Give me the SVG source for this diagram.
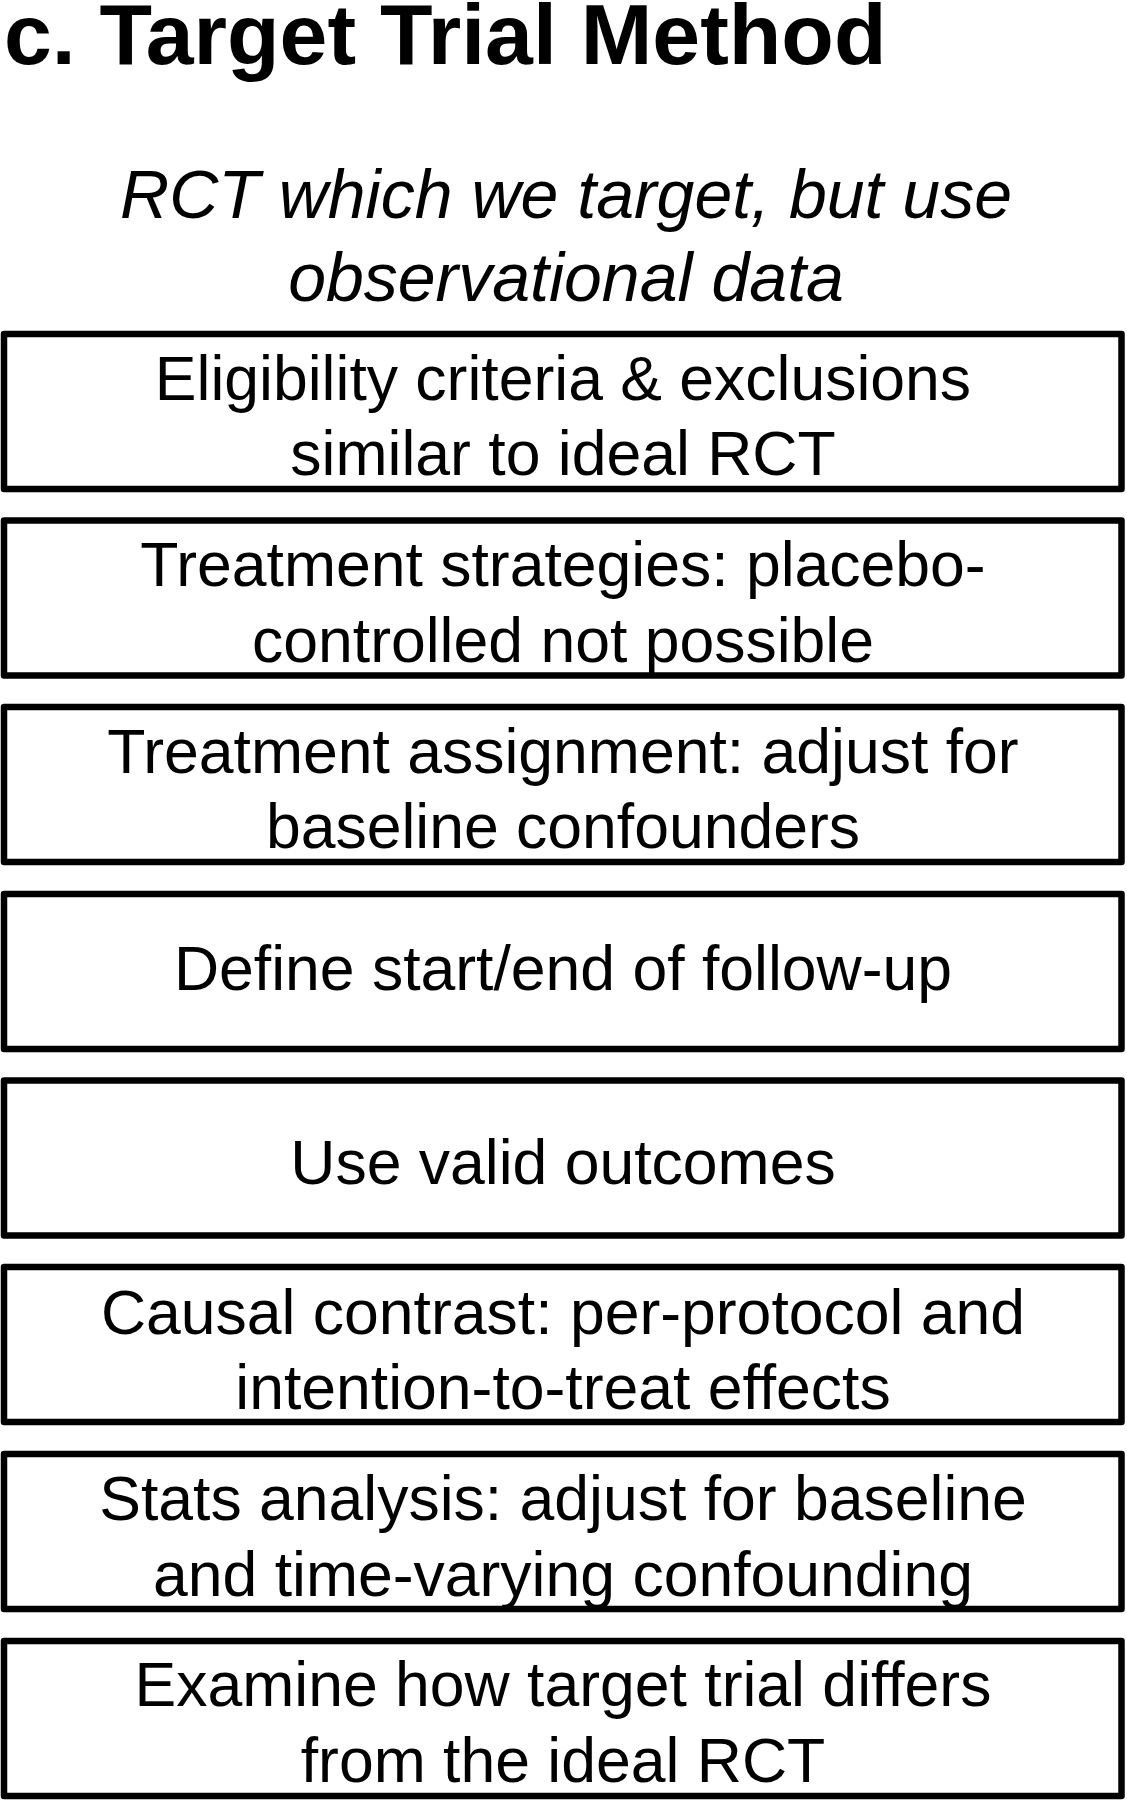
<svg xmlns="http://www.w3.org/2000/svg" width="1127" height="1800" viewBox="0 0 1127 1800">
<style>
.box{fill:#fff;stroke:#000;stroke-width:6.5;stroke-linejoin:round}
.t{font-family:"Liberation Sans",Arial,Helvetica,sans-serif;font-size:62.5px;fill:#000;text-anchor:middle}
.title{font-family:"Liberation Sans",Arial,Helvetica,sans-serif;font-size:86px;font-weight:bold;fill:#000}
.sub{font-family:"Liberation Sans",Arial,Helvetica,sans-serif;font-size:68px;font-style:italic;fill:#000;text-anchor:middle}
</style>
<rect width="1127" height="1800" fill="#fff"/>
<g id="title"><text class="title" x="4" y="64">c. Target Trial Method</text></g>
<g id="subtitle">
<text class="sub" x="566" y="218">RCT which we target, but use</text>
<text class="sub" x="566" y="301">observational data</text>
</g>
<g id="connectors"/>
<g id="n1"><rect class="box" x="4" y="334" width="1117.5" height="155"/>
<text class="t" x="563" y="400">Eligibility criteria &amp; exclusions</text>
<text class="t" x="563" y="475">similar to ideal RCT</text></g>
<g id="n2"><rect class="box" x="4" y="520.5" width="1117.5" height="155"/>
<text class="t" x="563" y="586">Treatment strategies: placebo-</text>
<text class="t" x="563" y="661.5">controlled not possible</text></g>
<g id="n3"><rect class="box" x="4" y="707" width="1117.5" height="155"/>
<text class="t" x="563" y="773">Treatment assignment: adjust for</text>
<text class="t" x="563" y="848">baseline confounders</text></g>
<g id="n4"><rect class="box" x="4" y="894" width="1117.5" height="155"/>
<text class="t" x="563" y="990">Define start/end of follow-up</text></g>
<g id="n5"><rect class="box" x="4" y="1080.5" width="1117.5" height="155"/>
<text class="t" x="563" y="1183.5">Use valid outcomes</text></g>
<g id="n6"><rect class="box" x="4" y="1267" width="1117.5" height="155"/>
<text class="t" x="563" y="1334">Causal contrast: per-protocol and</text>
<text class="t" x="563" y="1409">intention-to-treat effects</text></g>
<g id="n7"><rect class="box" x="4" y="1454" width="1117.5" height="155"/>
<text class="t" x="563" y="1520">Stats analysis: adjust for baseline</text>
<text class="t" x="563" y="1596">and time-varying confounding</text></g>
<g id="n8"><rect class="box" x="4" y="1641" width="1117.5" height="155"/>
<text class="t" x="563" y="1706">Examine how target trial differs</text>
<text class="t" x="563" y="1781.5">from the ideal RCT</text></g>
</svg>
